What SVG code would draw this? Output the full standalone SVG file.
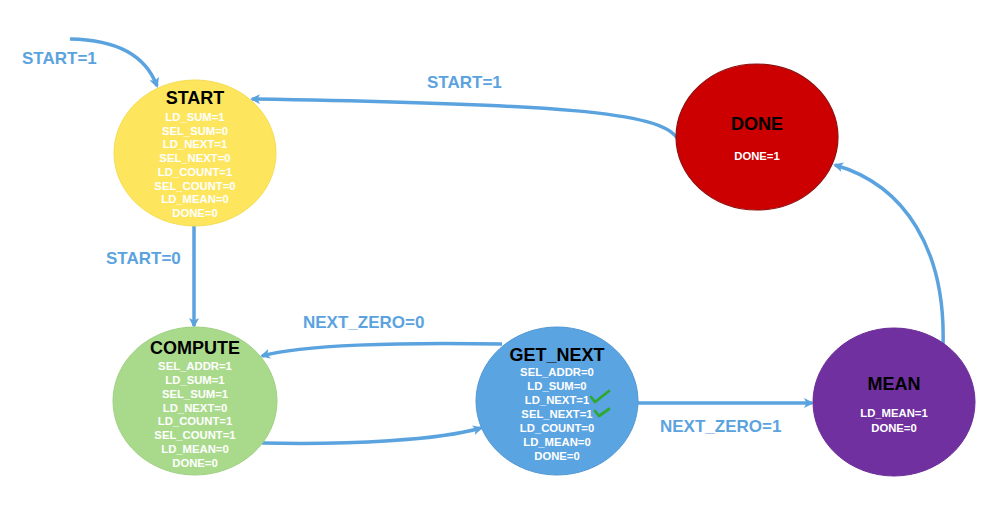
<svg xmlns="http://www.w3.org/2000/svg" width="1007" height="508" viewBox="0 0 1007 508">
<defs>
<marker id="ah" markerWidth="10" markerHeight="10" refX="8" refY="5" orient="auto" markerUnits="userSpaceOnUse">
<path d="M0,0 L10,5 L0,10 L2.5,5 Z" fill="#5BA3DF"/>
</marker>
</defs>
<style>
.edge{fill:none;stroke:#5BA3DF;stroke-width:3.5;marker-end:url(#ah)}
.title{font-family:"Liberation Sans",Arial,sans-serif;font-weight:bold;font-size:18px;fill:#000;text-anchor:middle}
.line{font-family:"Liberation Sans",Arial,sans-serif;font-weight:bold;font-size:11.3px;fill:#fff;text-anchor:middle}
.lbl{font-family:"Liberation Sans",Arial,sans-serif;font-weight:bold;font-size:17px;fill:#5BA3DF}
.chk{fill:none;stroke:#2EA82E;stroke-width:2.8;stroke-linecap:round;stroke-linejoin:round}
</style>
<rect width="1007" height="508" fill="#fff"/>
<g id="connectors">
<path class="edge" d="M70,39 Q140,40 157,86"/>
<path class="edge" d="M677,138 C660,112 560,104 252,99"/>
<path class="edge" d="M194,226 L194,326"/>
<path class="edge" d="M502,344 C400,342 300,345 262,356"/>
<path class="edge" d="M262,443 C350,445 440,440 481,428"/>
<path class="edge" d="M638,403 L812,403"/>
<path class="edge" d="M943,346 C946,250 905,185 835,165"/>
<text class="lbl" x="22" y="64">START=1</text>
<text class="lbl" x="427" y="88">START=1</text>
<text class="lbl" x="106" y="264">START=0</text>
<text class="lbl" x="303" y="328">NEXT_ZERO=0</text>
<text class="lbl" x="660" y="432">NEXT_ZERO=1</text>
</g>
<g id="start">
<ellipse cx="195" cy="153" rx="81" ry="73" fill="#FDE65E" stroke="#F5DD55" stroke-width="1"/>
<text class="title" x="195" y="104">START</text>
<text class="line" x="195" y="121">LD_SUM=1</text>
<text class="line" x="195" y="135">SEL_SUM=0</text>
<text class="line" x="195" y="148">LD_NEXT=1</text>
<text class="line" x="195" y="162">SEL_NEXT=0</text>
<text class="line" x="195" y="176">LD_COUNT=1</text>
<text class="line" x="195" y="190">SEL_COUNT=0</text>
<text class="line" x="195" y="203">LD_MEAN=0</text>
<text class="line" x="195" y="217">DONE=0</text>
</g>
<g id="compute">
<ellipse cx="195" cy="401" rx="82" ry="74" fill="#A9DA8C" stroke="#9FD083" stroke-width="1"/>
<text class="title" x="195" y="354">COMPUTE</text>
<text class="line" x="195" y="370">SEL_ADDR=1</text>
<text class="line" x="195" y="384">LD_SUM=1</text>
<text class="line" x="195" y="398">SEL_SUM=1</text>
<text class="line" x="195" y="412">LD_NEXT=0</text>
<text class="line" x="195" y="425">LD_COUNT=1</text>
<text class="line" x="195" y="439">SEL_COUNT=1</text>
<text class="line" x="195" y="453">LD_MEAN=0</text>
<text class="line" x="195" y="467">DONE=0</text>
</g>
<g id="get_next">
<ellipse cx="557" cy="401" rx="81" ry="74" fill="#5BA4E2" stroke="#4F97D4" stroke-width="1"/>
<text class="title" x="557" y="361">GET_NEXT</text>
<text class="line" x="557" y="376">SEL_ADDR=0</text>
<text class="line" x="557" y="390">LD_SUM=0</text>
<text class="line" x="557" y="404">LD_NEXT=1</text>
<text class="line" x="557" y="418">SEL_NEXT=1</text>
<text class="line" x="557" y="432">LD_COUNT=0</text>
<text class="line" x="557" y="446">LD_MEAN=0</text>
<text class="line" x="557" y="460">DONE=0</text>
<path class="chk" d="M591,397 L595,402 L609,391"/>
<path class="chk" d="M595,411 L599,416 L609,409"/>
</g>
<g id="mean">
<ellipse cx="894" cy="402" rx="81" ry="74" fill="#7030A0" stroke="#6A2C98" stroke-width="1"/>
<text class="title" x="894" y="390">MEAN</text>
<text class="line" x="894" y="417">LD_MEAN=1</text>
<text class="line" x="894" y="432">DONE=0</text>
</g>
<g id="done">
<ellipse cx="757" cy="137" rx="81" ry="73" fill="#CC0000" stroke="#8E1010" stroke-width="1.2"/>
<text class="title" x="757" y="130">DONE</text>
<text class="line" x="757" y="160">DONE=1</text>
</g>
</svg>
